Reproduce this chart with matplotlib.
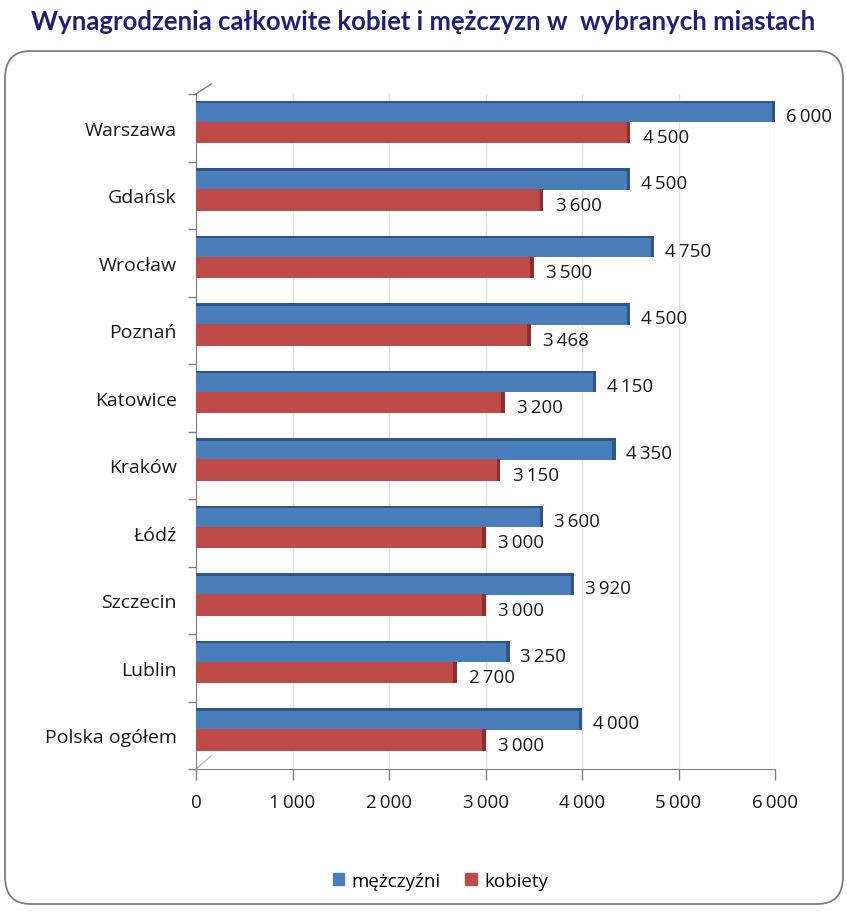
import matplotlib.pyplot as plt
from matplotlib.patches import FancyBboxPatch
import numpy as np

plt.rcParams['font.family'] = ['Open Sans', 'DejaVu Sans']

# data
cities = ["Warszawa", "Gdańsk", "Wrocław", "Poznań", "Katowice",
          "Kraków", "Łódź", "Szczecin", "Lublin", "Polska ogółem"]
men = [6000, 4500, 4750, 4500, 4150, 4350, 3600, 3920, 3250, 4000]
women = [4500, 3600, 3500, 3468, 3200, 3150, 3000, 3000, 2700, 3000]
series_names = ["mężczyźni", "kobiety"]
xticks = [0, 1000, 2000, 3000, 4000, 5000, 6000]

blue = "#4a7ebb"
blue_dark = "#2f5689"
red = "#be4b48"
red_dark = "#8a2f2d"


def fmt(v):
    return "{:,}".format(v).replace(",", "\u2009")


fig = plt.figure(figsize=(8.47, 9.12), dpi=100)

# rounded frame around the chart
box = FancyBboxPatch((5 / 847, 7 / 912), 838 / 847, 853 / 912,
                     boxstyle="round,pad=0,rounding_size=0.03",
                     transform=fig.transFigure, facecolor="white",
                     edgecolor="#7f7f7f", linewidth=1.3, zorder=-5)
fig.patches.append(box)

fig.text(0.5, 1 - 22 / 912, "Wynagrodzenia całkowite kobiet i mężczyzn w  wybranych miastach",
         ha="center", va="center", fontsize=18.5, fontweight="bold", color="#1f1f78",
         family=["Lato", "DejaVu Sans"])

ax = fig.add_axes([196 / 847, 1 - 770 / 912, (775 - 196) / 847, (770 - 95) / 912])
ax.set_facecolor("none")

y = np.arange(len(cities))
h = 0.32
yb = y - 0.24
yr = y + 0.07

ax.barh(yb, men, height=h, color=blue, zorder=3)
ax.barh(yr, women, height=h, color=red, zorder=3)
# darker end caps and top edges for the 3D look
cap = 35
ax.barh(yb, [cap] * len(men), left=np.array(men) - cap, height=h, color=blue_dark, zorder=4)
ax.barh(yr, [cap] * len(women), left=np.array(women) - cap, height=h, color=red_dark, zorder=4)
ax.barh(yb - h / 2 + 0.02, men, height=0.04, color=blue_dark, zorder=4)

for i in range(len(cities)):
    ax.text(men[i] + 110, yb[i] + 0.06, fmt(men[i]), ha="left", va="center",
            fontsize=13.5, color="#1a1a1a", zorder=5)
    ax.text(women[i] + 130, yr[i] + 0.07, fmt(women[i]), ha="left", va="center",
            fontsize=13.5, color="#1a1a1a", zorder=5)

ax.set_xlim(0, 6000)
ax.set_ylim(len(cities) - 0.5, -0.5)

ax.set_xticks(xticks)
ax.set_xticklabels([fmt(v) for v in xticks], fontsize=13.5, color="#1a1a1a")
ax.tick_params(axis="x", length=8, width=1, color="#808080", pad=9)

ax.set_yticks(y)
ax.set_yticklabels(cities, fontsize=14, color="#1a1a1a")
ax.tick_params(axis="y", which="major", length=0, pad=14)
ax.set_yticks(np.arange(len(cities) + 1) - 0.5, minor=True)
ax.tick_params(axis="y", which="minor", length=6, width=1, color="#808080")

ax.grid(axis="x", color="#e3e3e3", linewidth=1, zorder=0)
for s in ["top", "right"]:
    ax.spines[s].set_visible(False)
ax.spines["left"].set_color("#808080")
ax.spines["bottom"].set_color("#808080")

# small 3D floor diagonals
ax.plot([0, 160], [-0.5, -0.65], color="#808080", lw=1, clip_on=False)
ax.plot([0, 160], [9.5, 9.3], color="#b0b0b0", lw=0.8, clip_on=False)

handles = [plt.Rectangle((0, 0), 1, 1, color=blue), plt.Rectangle((0, 0), 1, 1, color=red)]
fig.legend(handles, series_names, loc="center", bbox_to_anchor=(0.52, 1 - 882 / 912),
           ncol=2, frameon=False, fontsize=13.5, handlelength=0.6, handleheight=0.6,
           handletextpad=0.4, columnspacing=1.3)

fig.savefig("out.png", dpi=100)
